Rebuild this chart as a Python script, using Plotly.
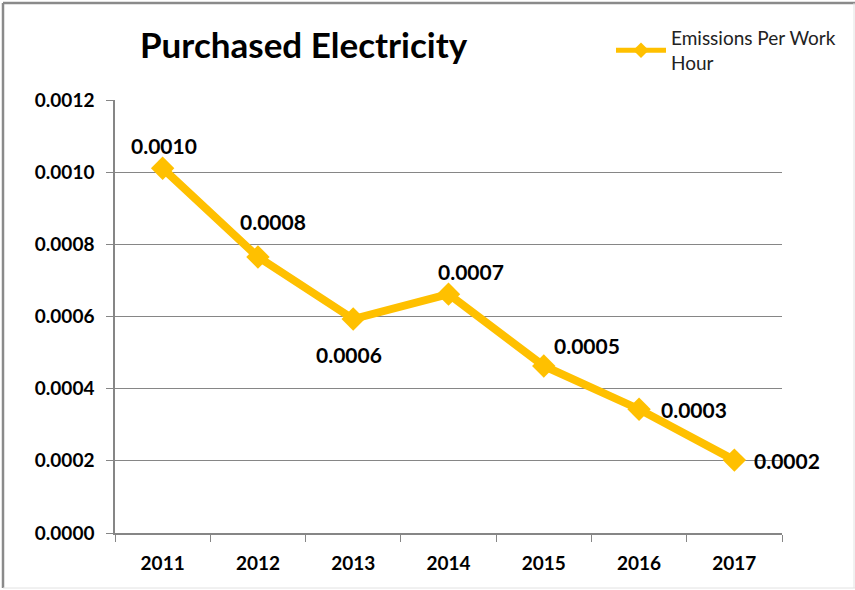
import plotly.graph_objects as go

years = ["2011", "2012", "2013", "2014", "2015", "2016", "2017"]
emissions = [0.001011, 0.000765, 0.000593, 0.000662, 0.000463, 0.000343, 0.000202]
y_ticks = [0.0, 0.0002, 0.0004, 0.0006, 0.0008, 0.0010, 0.0012]

# pixel offsets of each value label from its point (right, down)
label_offsets = [(1, -23), (15, -35), (-4, 35), (22, -23), (43, -20), (55, 0), (53, 0)]

W, H = 855, 590
L, R, T, B = 115, 73, 100, 57
pw, ph = W - L - R, H - T - B

FONT = "Lato, 'Open Sans', 'Liberation Sans', sans-serif"
GOLD = "#FFC000"
GRID = "#868686"

fig = go.Figure()
fig.add_trace(go.Scatter(
    x=years, y=emissions,
    mode="lines+markers",
    name="Emissions Per Work<br>Hour",
    line=dict(color=GOLD, width=8),
    marker=dict(symbol="diamond", size=18, color=GOLD),
    cliponaxis=False,
))

# value labels, placed by category index on the category axis
for i, (v, (dx, dy)) in enumerate(zip(emissions, label_offsets)):
    fig.add_annotation(x=i, y=v, xref="x", yref="y", text=f"{v:.4f}",
                       showarrow=False, xshift=dx, yshift=-dy,
                       font=dict(family=FONT, size=21, color="#000000", weight="bold"))


def px_x(p):
    return (p - L) / pw


def px_y(p):
    return (H - B - p) / ph


# chart frame: darker top/left edges, faint right/bottom edges
frame = [
    ((3, 3), (855, 3), "#8a8a8a", 2.5),
    ((3, 3), (3, 588), "#8a8a8a", 2.5),
    ((854, 3), (854, 588), "#e2e2e2", 1),
    ((3, 588), (855, 588), "#e2e2e2", 1),
]
for (xa, ya), (xb, yb), col, lw in frame:
    fig.add_shape(type="line", xref="paper", yref="paper",
                  x0=px_x(xa), y0=px_y(ya), x1=px_x(xb), y1=px_y(yb),
                  line=dict(color=col, width=lw), layer="below")

fig.update_layout(
    width=W, height=H,
    margin=dict(l=L, r=R, t=T, b=B),
    paper_bgcolor="white", plot_bgcolor="white",
    font=dict(family=FONT, color="#000000"),
    title=dict(text="<b>Purchased Electricity</b>",
               font=dict(family=FONT, size=35, color="#000000"),
               x=140 / W, xanchor="left", xref="container",
               y=1 - 46 / H, yanchor="middle", yref="container"),
    showlegend=True,
    legend=dict(x=px_x(611), y=px_y(19), xanchor="left", yanchor="top",
                font=dict(family=FONT, size=19, color="#222222"),
                bgcolor="rgba(0,0,0,0)", itemwidth=50, itemsizing="constant"),
    xaxis=dict(type="category", categoryarray=years, categoryorder="array",
               range=[-0.5, len(years) - 0.5],
               showgrid=False, showline=True, linecolor=GRID,
               linewidth=1.5, ticks="outside", tickson="boundaries",
               ticklen=7, tickcolor=GRID, ticklabelstandoff=12, tickangle=0,
               tickfont=dict(family=FONT, size=19, color="#000000", weight="bold"),
               fixedrange=True),
    yaxis=dict(range=[0, 0.0012], tickvals=y_ticks,
               tickformat=".4f", showgrid=True, gridcolor=GRID, gridwidth=1.3,
               showline=True, linecolor=GRID, linewidth=1.5, zeroline=False,
               ticks="outside", ticklen=7, tickcolor=GRID, ticklabelstandoff=8,
               tickfont=dict(family=FONT, size=19, color="#000000", weight="bold"),
               fixedrange=True),
)

fig.write_html("out.html")
